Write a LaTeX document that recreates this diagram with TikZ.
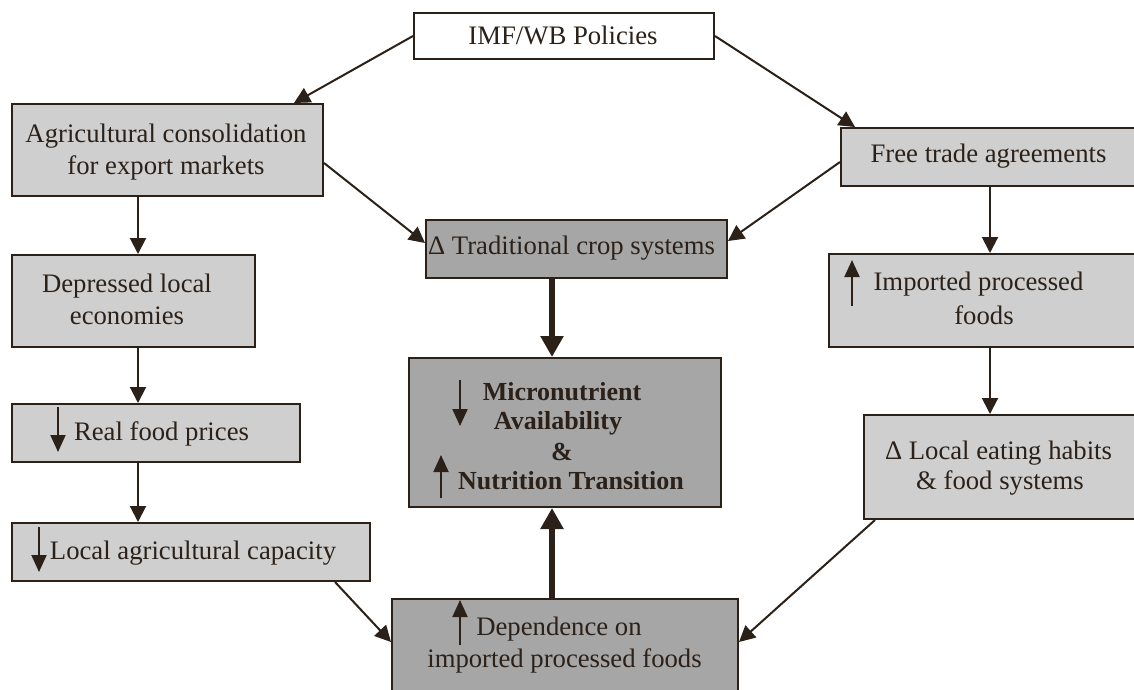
\documentclass[tikz,border=0pt]{standalone}
\usepackage{fontspec}
\setmainfont{Liberation Serif}
\usetikzlibrary{arrows.meta,calc}
\definecolor{ink}{HTML}{2B2118}
\definecolor{lightg}{HTML}{CFCFCF}
\definecolor{darkg}{HTML}{A6A6A6}
\begin{document}
\begin{tikzpicture}[x=1pt,y=-1pt,
  lbox/.style={draw=ink, line width=2pt, fill=lightg, inner sep=0pt, anchor=north west},
  dbox/.style={lbox, fill=darkg},
  txt/.style={text=ink, font=\fontsize{26.7}{32}\selectfont, align=center, inner sep=0pt},
  btxt/.style={txt, font=\fontsize{26}{29}\selectfont\bfseries},
  arr/.style={draw=ink, line width=2pt, -{Triangle[width=16pt,length=16pt]}},
  bigarr/.style={draw=ink, line width=5.5pt, -{Triangle[width=22pt,length=21pt]}},
  sarr/.style={draw=ink, line width=2pt, -{Triangle[width=15pt,length=17pt]}},
]
\useasboundingbox (0,0) rectangle (1134,689);
\fill[white] (0,0) rectangle (1134,689);
\clip (0,0) rectangle (1134,689);

% boxes
\node[lbox, fill=white, minimum width=300, minimum height=46] (imf) at (413,12) {};
\node[lbox, minimum width=311, minimum height=92] (agri) at (11,103) {};
\node[lbox, minimum width=243, minimum height=92] (depr) at (11,254) {};
\node[lbox, minimum width=288, minimum height=58] (rfp) at (11,403) {};
\node[lbox, minimum width=358, minimum height=58] (lac) at (11,522) {};
\node[dbox, minimum width=301, minimum height=58] (trad) at (425,219) {};
\node[dbox, minimum width=312, minimum height=149] (micro) at (408,357) {};
\node[dbox, minimum width=346, minimum height=120] (dep) at (391,598) {};
\node[lbox, minimum width=320, minimum height=58] (free) at (840,127) {};
\node[lbox, minimum width=330, minimum height=93] (imp) at (828,253) {};
\node[lbox, minimum width=300, minimum height=104] (leat) at (863,414) {};

% texts
\node[txt] (timf) at (563,35) {IMF/WB Policies};
\node[txt] (tagri) at (166,152) {Agricultural consolidation\\for export markets};
\node[txt] (tdepr) at (127,299) {Depressed local\\economies};
\node[txt] (trfp) at (161.5,434) {Real food prices};
\node[txt] (tlac) at (193,553) {Local agricultural capacity};
\node[txt] (ttrad) at (571.5,248) {Δ Traditional crop systems};
\node[btxt] (tm1) at (562,392) {Micronutrient};
\node[btxt] (tm2) at (558,423) {Availability};
\node[btxt] (tm3) at (562,452) {\&};
\node[btxt] (tm4) at (571,481) {Nutrition Transition};
\node[txt] (td1) at (559,629) {Dependence on};
\node[txt] (td2) at (564.5,661) {imported processed foods};
\node[txt] (tfree) at (988.5,156) {Free trade agreements};
\node[txt] (ti1) at (978.5,284) {Imported processed};
\node[txt] (ti2) at (984,315) {foods};
\node[txt] (tl1) at (998.5,453) {Δ Local eating habits};
\node[txt] (tl2) at (1000,483) {\& food systems};

% small up/down arrows inside boxes
\draw[sarr] ($(rfp.north west)+(47,4)$) -- ($(rfp.north west)+(47,49)$);
\draw[sarr] ($(lac.north west)+(28,5)$) -- ($(lac.north west)+(28,50)$);
\draw[sarr] ($(micro.north west)+(52,23)$) -- ($(micro.north west)+(52,69)$);
\draw[sarr] ($(micro.north west)+(33,141)$) -- ($(micro.north west)+(33,98)$);
\draw[sarr] ($(dep.north west)+(69,47)$) -- ($(dep.north west)+(69,2)$);
\draw[sarr] ($(imp.north west)+(24,53)$) -- ($(imp.north west)+(24,7)$);

% connectors
\coordinate (lcol) at (138,0);
\coordinate (rcol) at (990,0);
\coordinate (mcol) at (552,0);
\draw[arr] (imf.west) -- ([xshift=-30pt]agri.north east);
\draw[arr] (imf.east) -- ([xshift=15pt]free.north west);
\draw[arr] ([yshift=-60pt]agri.north east) -- ([yshift=6pt]trad.west);
\draw[arr] ([yshift=-35pt]free.north west) -- ([yshift=8pt]trad.east);
\draw[arr] (lcol |- agri.south) -- (lcol |- depr.north);
\draw[arr] (lcol |- depr.south) -- (lcol |- rfp.north);
\draw[arr] (lcol |- rfp.south) -- (lcol |- lac.north);
\draw[arr] ([xshift=-36pt]lac.south east) -- ([yshift=-44pt]dep.north west);
\draw[arr] (rcol |- free.south) -- (rcol |- imp.north);
\draw[arr] (rcol |- imp.south) -- (rcol |- leat.north);
\draw[arr] ([xshift=12pt]leat.south west) -- ([yshift=-44pt]dep.north east);
\draw[bigarr] (mcol |- trad.south) -- (mcol |- micro.north);
\draw[bigarr] (mcol |- dep.north) -- (mcol |- micro.south);
\end{tikzpicture}
\end{document}
